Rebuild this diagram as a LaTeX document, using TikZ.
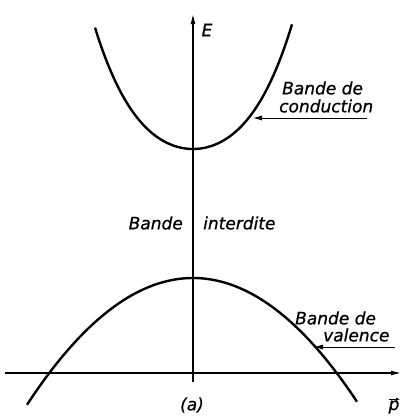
\documentclass[tikz,border=0pt]{standalone}
\usepackage{fontspec}
\setmainfont{DejaVu Sans}[ItalicFeatures={FakeBold=0.8}]
\usetikzlibrary{arrows.meta}
\begin{document}
\begin{tikzpicture}[x=1pt,y=-1pt,
  axis/.style={line width=1.2pt,-{Latex[length=10pt,width=5pt]}},
  band/.style={line width=2.4pt},
  pointer/.style={line width=0.9pt,-{Latex[length=9pt,width=5pt]}},
  lbl/.style={font=\fontsize{17}{19}\selectfont\itshape, inner sep=0pt}]
\useasboundingbox (0,0) rectangle (405,418);
% axes
\coordinate (vbot) at (193,382);
\coordinate (vtop) at (193,14);
\coordinate (hl) at (5,373);
\coordinate (hr) at (401,373);
\draw[axis] (vbot) -- (vtop);
\draw[axis] (hl) -- (hr);
% bands
\draw[band] plot[domain=-98:99, samples=100] ({193+\x},{149 - 88*(\x/100)^2 - 40*(\x/100)^4});
\draw[band] plot[domain=-166:164, samples=100] ({193+\x},{278 + 46*(\x/100)^2});
% labels
\node[lbl] (E) at (207,30) {E};
\node[lbl, anchor=west] (cb1) at (282,88) {Bande de};
\node[lbl, anchor=west] (cb2) at (279,106) {conduction};
\node[lbl, anchor=west] (vb1) at (295,318) {Bande de};
\node[lbl, anchor=west] (vb2) at (323,335) {valence};
\node[lbl, anchor=east] (gap1) at (183,223) {Bande};
\node[lbl, anchor=west] (gap2) at (203,223) {interdite};
\node[lbl] (a) at (192,405) {(a)};
\node[lbl] (p) at (394,407) {p};
\draw[line width=1pt,-{Latex[length=4pt,width=3.5pt]}] ([xshift=-5pt,yshift=1pt]p.north) -- ([xshift=6pt,yshift=1pt]p.north);
% pointers
\coordinate (ctip) at (253,118);
\coordinate (cend) at (367,118);
\coordinate (vtip) at (314,347);
\coordinate (vend) at (395,347);
\draw[pointer] (cend) -- (ctip);
\draw[pointer] (vend) -- (vtip);
\end{tikzpicture}
\end{document}
